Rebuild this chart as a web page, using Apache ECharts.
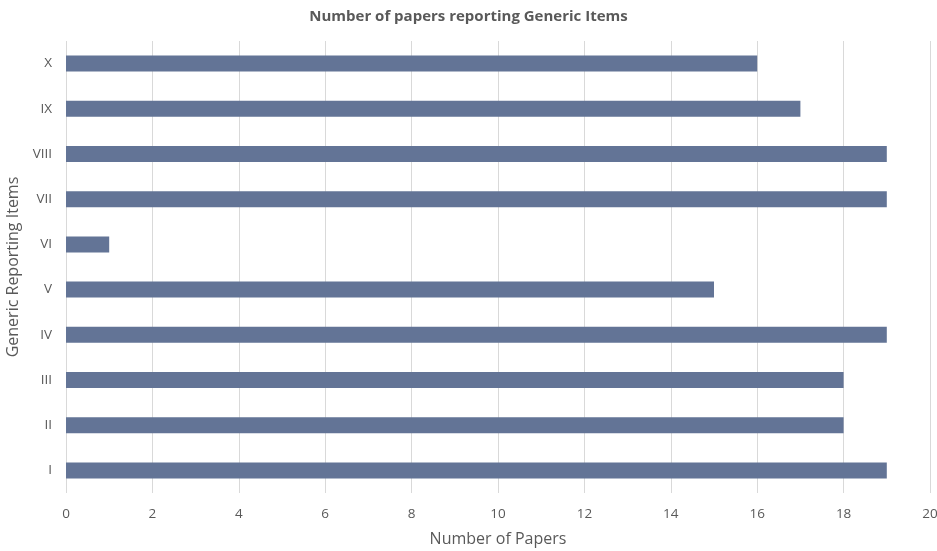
<!DOCTYPE html>
<html>
<head>
<meta charset="utf-8">
<script src="https://cdn.jsdelivr.net/npm/echarts@6/dist/echarts.min.js"></script>
<style>
  html, body { margin: 0; padding: 0; background: #fff; }
  #chart { width: 937px; height: 551px; }
</style>
</head>
<body>
<div id="chart"></div>
<script>
// data
const categories = ['I', 'II', 'III', 'IV', 'V', 'VI', 'VII', 'VIII', 'IX', 'X']
const paperCounts = [19, 18, 18, 19, 15, 1, 19, 19, 17, 16]

const chart = echarts.init(document.getElementById('chart'))

const font = '"Open Sans", "Liberation Sans", sans-serif'

chart.setOption({
  animation: false,
  textStyle: { fontFamily: font },
  title: {
    text: 'Number of papers reporting Generic Items',
    left: 'center',
    top: 4,
    textStyle: { fontSize: 15, fontWeight: 'bold', color: '#595959', fontFamily: font }
  },
  grid: { left: 66, right: 7, top: 41, bottom: 58, containLabel: false, outerBoundsMode: 'none' },
  xAxis: {
    type: 'value',
    min: 0,
    max: 20,
    interval: 2,
    name: 'Number of Papers',
    nameLocation: 'middle',
    nameGap: 38,
    nameTextStyle: { fontSize: 16, color: '#595959' },
    axisLine: { show: false },
    axisTick: { show: false },
    axisLabel: { color: '#595959', fontSize: 13.5, margin: 14 },
    splitLine: { lineStyle: { color: '#d9d9d9', width: 1 } }
  },
  yAxis: {
    type: 'category',
    data: categories,
    name: 'Generic Reporting Items',
    nameLocation: 'middle',
    nameGap: 42,
    nameRotate: 90,
    nameTextStyle: { fontSize: 16, color: '#595959' },
    axisLine: { show: false },
    axisTick: { show: false },
    axisLabel: { color: '#595959', fontSize: 13.5, margin: 14 }
  },
  series: [{
    type: 'bar',
    data: paperCounts,
    barWidth: 16,
    itemStyle: { color: '#637496' }
  }]
})
</script>
</body>
</html>
